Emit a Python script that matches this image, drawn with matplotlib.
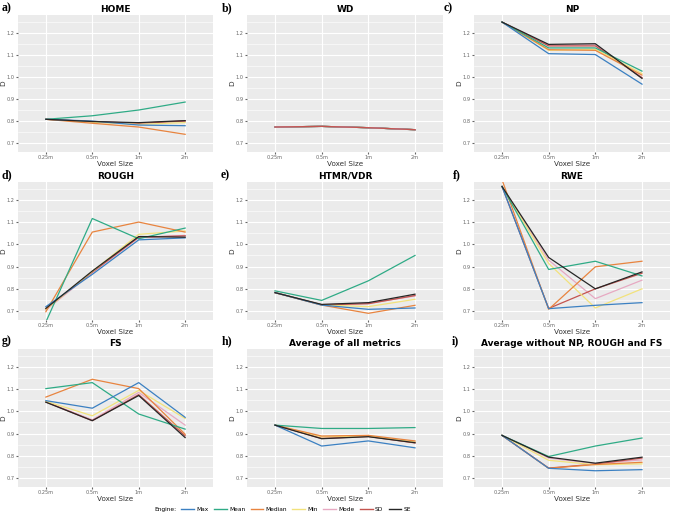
import matplotlib
matplotlib.use("Agg")
import matplotlib.pyplot as plt
import numpy as np

voxel_sizes = ["0.25m", "0.5m", "1m", "2m"]
series_names = ["Max", "Mean", "Median", "Min", "Mode", "SD", "SE"]
series_colors = ["#3b80c2", "#2fab86", "#e8843f", "#f2e27c", "#e7a9c2", "#c4544f", "#262626"]

titles = ["HOME", "WD", "NP", "ROUGH", "HTMR/VDR", "RWE", "FS",
          "Average of all metrics", "Average without NP, ROUGH and FS"]
panel_tags = ["a)", "b)", "c)", "d)", "e)", "f)", "g)", "h)", "i)"]

# values per panel, one row per series (order of series_names)
home = [[0.808, 0.800, 0.782, 0.779],
        [0.808, 0.824, 0.850, 0.886],
        [0.808, 0.790, 0.773, 0.740],
        [0.808, 0.795, 0.785, 0.793],
        [0.808, 0.798, 0.790, 0.802],
        [0.808, 0.797, 0.790, 0.800],
        [0.808, 0.798, 0.793, 0.802]]
wd = [[0.773, 0.776, 0.770, 0.761]] * 7
np_ = [[1.248, 1.105, 1.101, 0.967],
       [1.248, 1.131, 1.131, 1.026],
       [1.248, 1.123, 1.120, 1.008],
       [1.248, 1.120, 1.125, 1.015],
       [1.248, 1.143, 1.145, 0.998],
       [1.248, 1.140, 1.140, 0.996],
       [1.248, 1.147, 1.150, 0.993]]
rough = [[0.720, 0.865, 1.020, 1.029],
         [0.651, 1.116, 1.025, 1.073],
         [0.697, 1.055, 1.100, 1.055],
         [0.708, 0.878, 1.045, 1.060],
         [0.705, 0.872, 1.030, 1.040],
         [0.710, 0.875, 1.032, 1.038],
         [0.712, 0.880, 1.035, 1.032]]
htmr = [[0.783, 0.727, 0.708, 0.714],
        [0.791, 0.748, 0.836, 0.950],
        [0.783, 0.727, 0.690, 0.726],
        [0.783, 0.728, 0.720, 0.753],
        [0.783, 0.729, 0.735, 0.768],
        [0.783, 0.728, 0.733, 0.770],
        [0.783, 0.730, 0.738, 0.776]]
rwe = [[1.260, 0.711, 0.726, 0.738],
       [1.260, 0.887, 0.924, 0.858],
       [1.290, 0.708, 0.899, 0.924],
       [1.260, 0.914, 0.714, 0.800],
       [1.260, 0.929, 0.756, 0.839],
       [1.260, 0.712, 0.800, 0.870],
       [1.260, 0.941, 0.800, 0.876]]
fs = [[1.048, 1.014, 1.129, 0.973],
      [1.102, 1.129, 0.988, 0.920],
      [1.064, 1.144, 1.102, 0.897],
      [1.045, 0.980, 1.094, 0.968],
      [1.043, 0.962, 1.085, 0.938],
      [1.042, 0.958, 1.075, 0.890],
      [1.041, 0.958, 1.071, 0.882]]
avg_all = [[0.938, 0.844, 0.867, 0.836],
           [0.938, 0.923, 0.923, 0.927],
           [0.938, 0.889, 0.892, 0.867],
           [0.938, 0.885, 0.890, 0.862],
           [0.938, 0.882, 0.889, 0.860],
           [0.938, 0.878, 0.887, 0.858],
           [0.938, 0.877, 0.886, 0.859]]
avg_sub = [[0.892, 0.744, 0.733, 0.738],
           [0.892, 0.797, 0.844, 0.880],
           [0.892, 0.744, 0.761, 0.771],
           [0.892, 0.780, 0.760, 0.764],
           [0.892, 0.790, 0.765, 0.782],
           [0.892, 0.745, 0.763, 0.790],
           [0.892, 0.794, 0.767, 0.794]]
panels = [home, wd, np_, rough, htmr, rwe, fs, avg_all, avg_sub]

W, H = 673, 512
fig = plt.figure(figsize=(W / 100, H / 100), dpi=100)
fig.patch.set_facecolor("white")

col_x = [(18, 213), (247, 443), (474, 670)]
row_y = [(15, 152), (182, 320), (349, 487)]
tag_pos = [(2, 8), (222, 8), (444, 8), (2, 175), (221, 175), (453, 175),
           (2, 341), (222, 341), (452, 341)]

xs = np.arange(len(voxel_sizes))

for k, data in enumerate(panels):
    r, c = divmod(k, 3)
    x0, x1 = col_x[c]
    yt, yb = row_y[r]
    ax = fig.add_axes([x0 / W, 1 - yb / H, (x1 - x0) / W, (yb - yt) / H])
    ax.set_facecolor("#ebebeb")
    for s in ax.spines.values():
        s.set_visible(False)
    ax.set_xlim(-0.6, 3.6)
    ax.set_ylim(0.66, 1.28)
    ax.set_yticks([0.7, 0.8, 0.9, 1.0, 1.1, 1.2])
    ax.set_yticks([0.75, 0.85, 0.95, 1.05, 1.15, 1.25], minor=True)
    ax.set_xticks(xs)
    ax.set_xticklabels(voxel_sizes)
    ax.grid(True, which="major", color="white", lw=0.8)
    ax.grid(True, which="minor", axis="y", color="white", lw=0.4)
    ax.set_axisbelow(True)
    ax.tick_params(which="both", length=1.2, color="#666666", labelsize=3.6,
                   labelcolor="#666666", pad=1.2)
    ax.tick_params(which="minor", length=0)
    # WD lines all coincide; the pinkish-red one is the one left on top
    order = [6, 3, 2, 1, 0, 4, 5] if k == 1 else [4, 5, 3, 2, 1, 0, 6]
    for i in order:
        ax.plot(xs, data[i], color=series_colors[i], lw=0.9)
    ax.set_title(titles[k], fontsize=6.5, fontweight="bold", pad=2.5)
    ax.set_xlabel("Voxel Size", fontsize=5.2, labelpad=0.8, color="#333333")
    ax.set_ylabel("D", fontsize=5.2, color="#333333")
    ax.yaxis.set_label_coords(-12 / (x1 - x0), 0.5)
    tx, ty = tag_pos[k]
    fig.text(tx / W, 1 - ty / H, panel_tags[k], fontsize=8.5, fontweight="bold",
             family="Liberation Serif", va="center", ha="left")

# legend sits at the bottom edge, mostly cut off as in the source figure
handles = [plt.Line2D([], [], color="none")]
handles += [plt.Line2D([], [], color=series_colors[i], lw=1.0) for i in range(7)]
fig.legend(handles, ["Engine:"] + series_names, loc="upper center",
           bbox_to_anchor=(275 / W, 1 - 503 / H), ncol=8, frameon=False,
           fontsize=4.2, handlelength=2.2, handletextpad=0.4, columnspacing=0.9,
           borderpad=0.2)

fig.savefig("out.png", dpi=100)
